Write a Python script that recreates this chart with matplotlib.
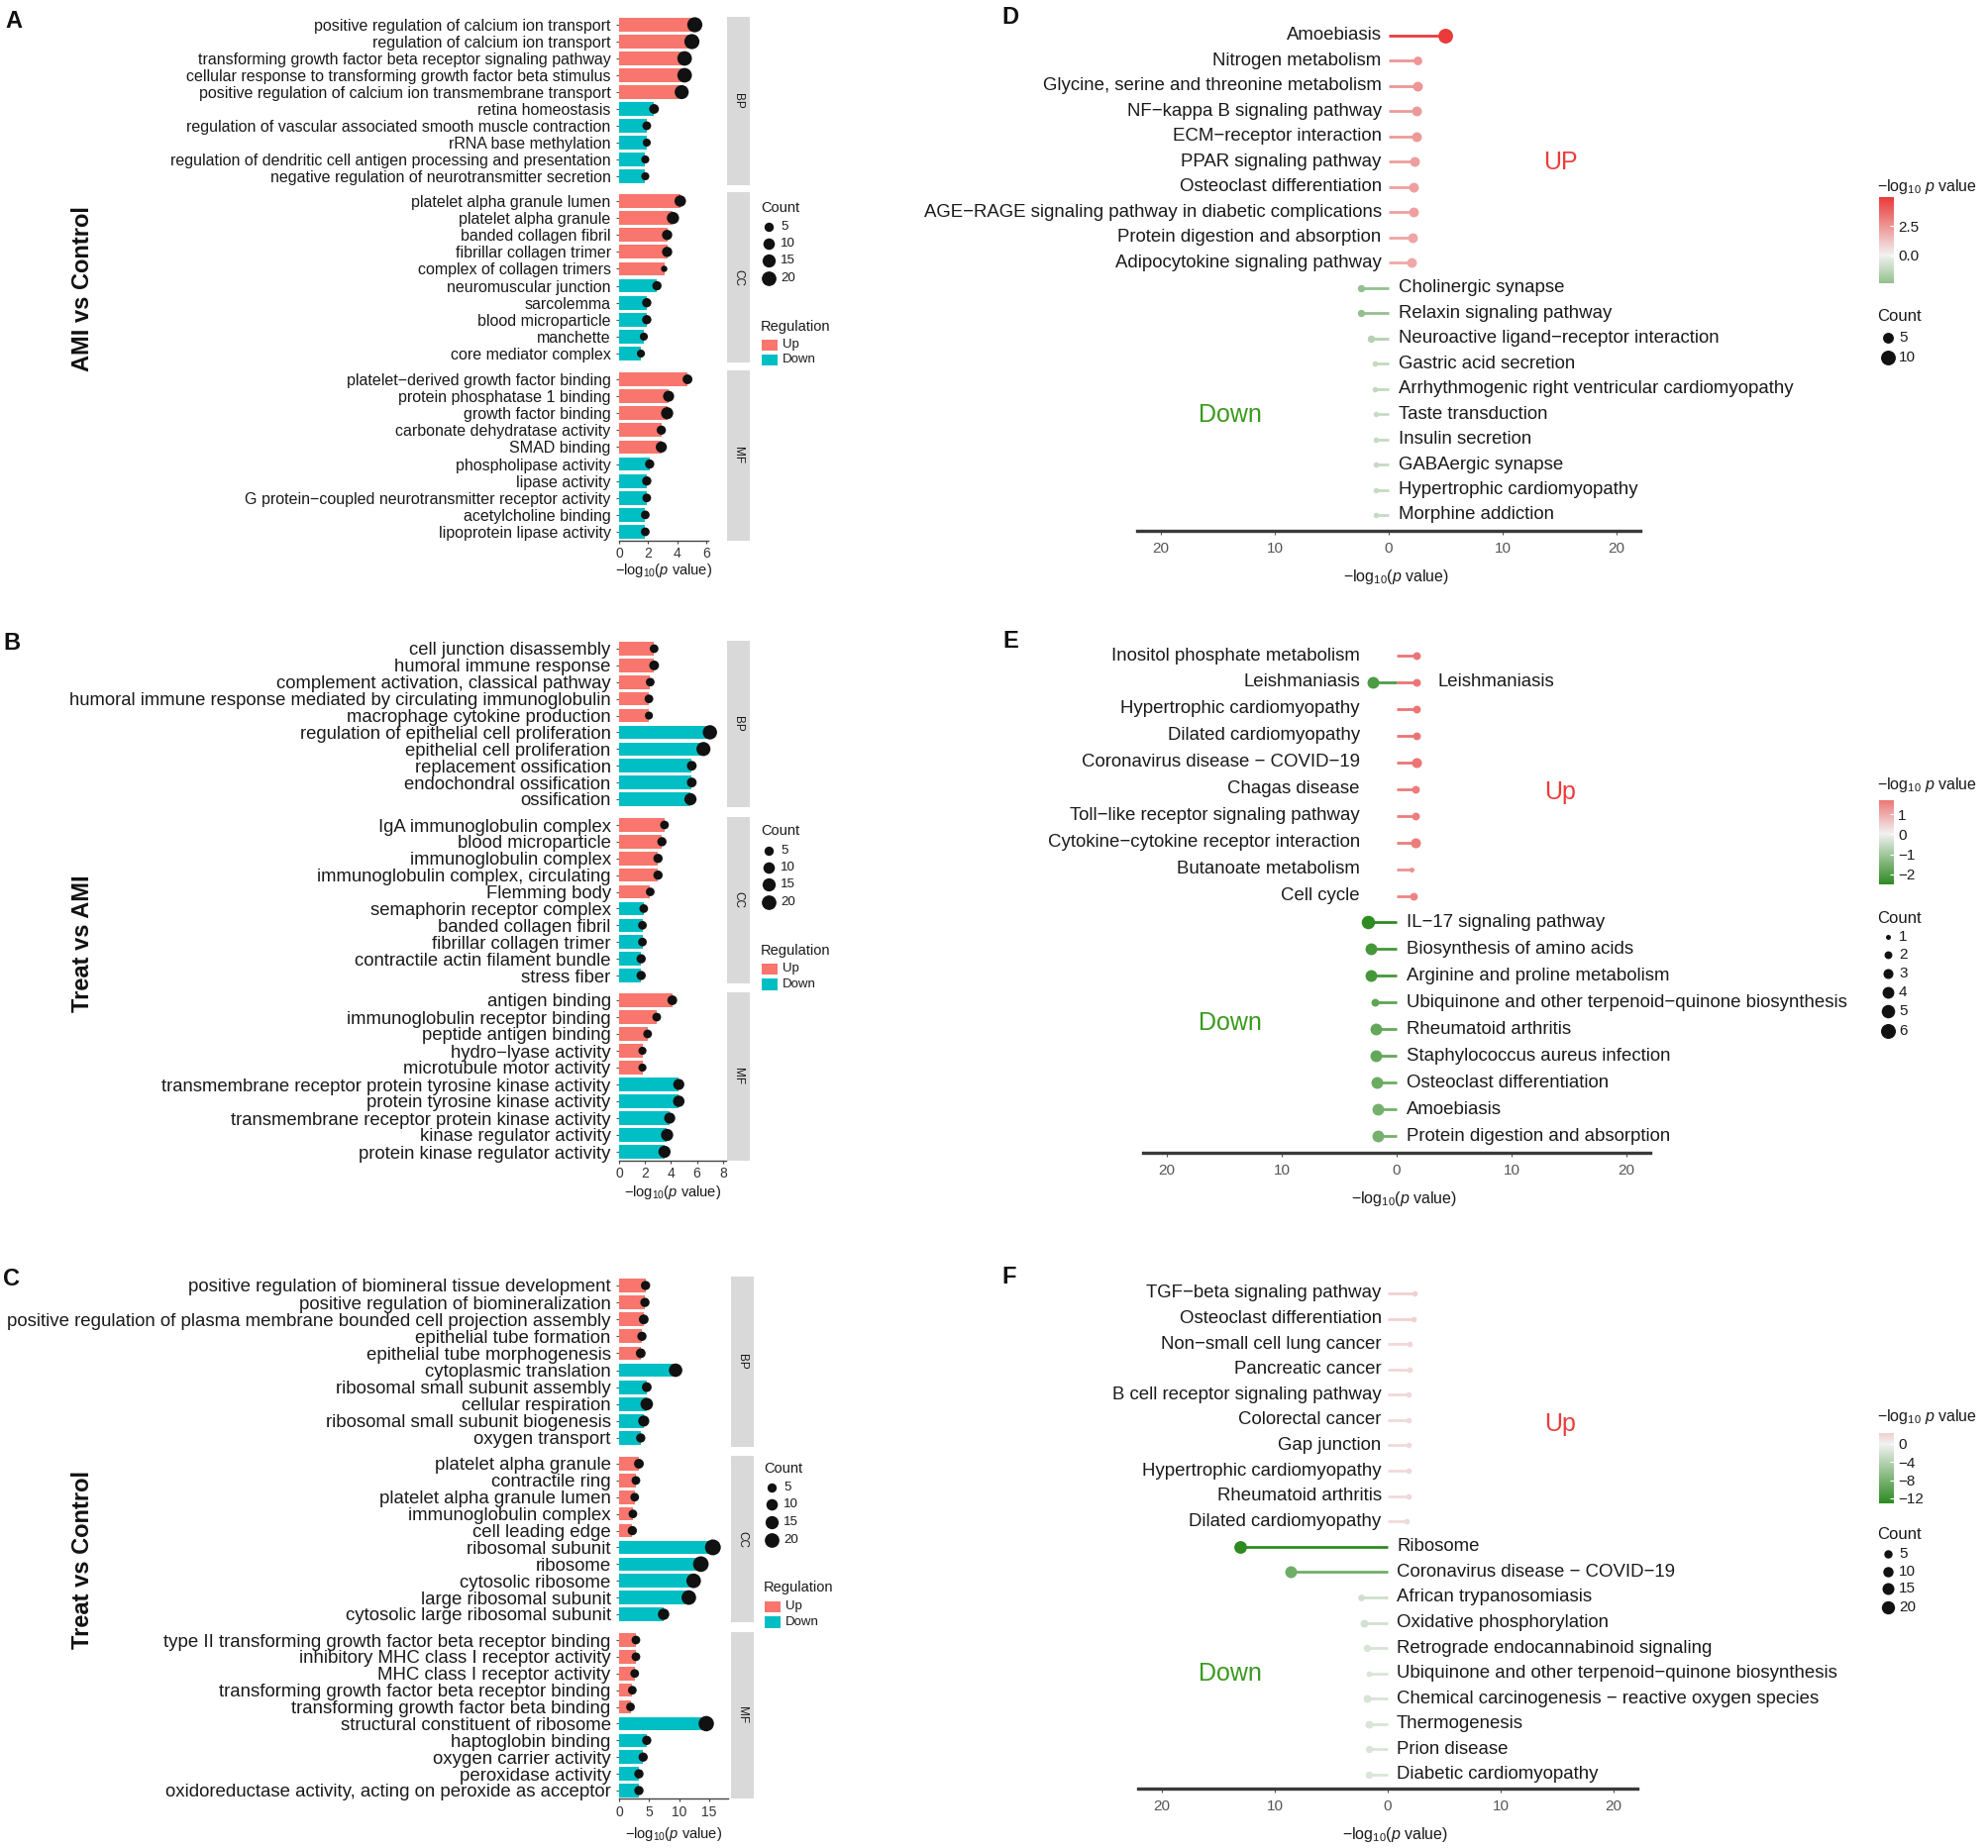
import numpy as np
import matplotlib
matplotlib.use("Agg")
import matplotlib.pyplot as plt
from matplotlib.colors import LinearSegmentedColormap
from matplotlib.patches import Rectangle

plt.rcParams['font.family'] = ['Liberation Sans', 'DejaVu Sans']
plt.rcParams['mathtext.fontset'] = 'custom'
plt.rcParams['mathtext.rm'] = 'Liberation Sans'
plt.rcParams['mathtext.it'] = 'Liberation Sans:italic'
plt.rcParams['mathtext.bf'] = 'Liberation Sans:bold'

M = "\u2212"
# ------------------------------------------------------------------ data
A_terms = ["positive regulation of calcium ion transport", "regulation of calcium ion transport",
           "transforming growth factor beta receptor signaling pathway",
           "cellular response to transforming growth factor beta stimulus",
           "positive regulation of calcium ion transmembrane transport", "retina homeostasis",
           "regulation of vascular associated smooth muscle contraction", "rRNA base methylation",
           "regulation of dendritic cell antigen processing and presentation",
           "negative regulation of neurotransmitter secretion",
           "platelet alpha granule lumen", "platelet alpha granule", "banded collagen fibril",
           "fibrillar collagen trimer", "complex of collagen trimers", "neuromuscular junction",
           "sarcolemma", "blood microparticle", "manchette", "core mediator complex",
           "platelet" + M + "derived growth factor binding", "protein phosphatase 1 binding",
           "growth factor binding", "carbonate dehydratase activity", "SMAD binding",
           "phospholipase activity", "lipase activity",
           "G protein" + M + "coupled neurotransmitter receptor activity", "acetylcholine binding",
           "lipoprotein lipase activity"]
A_values = [5.2, 5.0, 4.5, 4.5, 4.3, 2.4, 1.9, 1.9, 1.8, 1.8,
            4.2, 3.7, 3.3, 3.3, 3.1, 2.6, 1.9, 1.9, 1.7, 1.5,
            4.7, 3.4, 3.3, 2.9, 2.9, 2.1, 1.9, 1.9, 1.8, 1.8]
A_counts = [22, 22, 20, 20, 18, 6, 4, 3, 3, 3,
            10, 12, 7, 7, 1, 5, 5, 5, 3, 3,
            6, 9, 12, 5, 9, 5, 5, 4, 4, 4]
A_regulation = (["Up"] * 5 + ["Down"] * 5) * 3
A_ontology = ["BP"] * 10 + ["CC"] * 10 + ["MF"] * 10

B_terms = ["cell junction disassembly", "humoral immune response", "complement activation, classical pathway",
           "humoral immune response mediated by circulating immunoglobulin", "macrophage cytokine production",
           "regulation of epithelial cell proliferation", "epithelial cell proliferation",
           "replacement ossification", "endochondral ossification", "ossification",
           "IgA immunoglobulin complex", "blood microparticle", "immunoglobulin complex",
           "immunoglobulin complex, circulating", "Flemming body", "semaphorin receptor complex",
           "banded collagen fibril", "fibrillar collagen trimer", "contractile actin filament bundle",
           "stress fiber",
           "antigen binding", "immunoglobulin receptor binding", "peptide antigen binding",
           "hydro" + M + "lyase activity", "microtubule motor activity",
           "transmembrane receptor protein tyrosine kinase activity", "protein tyrosine kinase activity",
           "transmembrane receptor protein kinase activity", "kinase regulator activity",
           "protein kinase regulator activity"]
B_values = [2.7, 2.7, 2.4, 2.3, 2.3, 7.0, 6.5, 5.6, 5.6, 5.5,
            3.5, 3.3, 3.0, 3.0, 2.4, 1.9, 1.8, 1.8, 1.7, 1.7,
            4.1, 2.9, 2.2, 1.8, 1.8, 4.6, 4.6, 3.9, 3.7, 3.5]
B_counts = [4, 6, 4, 4, 3, 19, 18, 6, 6, 12,
            4, 5, 5, 5, 4, 4, 4, 4, 5, 5,
            6, 4, 4, 3, 3, 9, 10, 9, 12, 12]
B_regulation = (["Up"] * 5 + ["Down"] * 5) * 3
B_ontology = ["BP"] * 10 + ["CC"] * 10 + ["MF"] * 10

C_terms = ["positive regulation of biomineral tissue development", "positive regulation of biomineralization",
           "positive regulation of plasma membrane bounded cell projection assembly",
           "epithelial tube formation", "epithelial tube morphogenesis", "cytoplasmic translation",
           "ribosomal small subunit assembly", "cellular respiration", "ribosomal small subunit biogenesis",
           "oxygen transport",
           "platelet alpha granule", "contractile ring", "platelet alpha granule lumen",
           "immunoglobulin complex", "cell leading edge", "ribosomal subunit", "ribosome",
           "cytosolic ribosome", "large ribosomal subunit", "cytosolic large ribosomal subunit",
           "type II transforming growth factor beta receptor binding",
           "inhibitory MHC class I receptor activity", "MHC class I receptor activity",
           "transforming growth factor beta receptor binding", "transforming growth factor beta binding",
           "structural constituent of ribosome", "haptoglobin binding", "oxygen carrier activity",
           "peroxidase activity", "oxidoreductase activity, acting on peroxide as acceptor"]
C_values = [4.4, 4.3, 4.1, 3.8, 3.6, 9.4, 4.6, 4.6, 4.1, 3.6,
            3.3, 2.8, 2.6, 2.3, 2.2, 15.6, 13.6, 12.4, 11.6, 7.4,
            2.8, 2.8, 2.6, 2.2, 1.9, 14.5, 4.6, 4.0, 3.3, 3.3]
C_counts = [5, 5, 6, 5, 6, 16, 6, 13, 9, 5,
            6, 4, 4, 4, 5, 25, 24, 20, 20, 10,
            4, 4, 4, 4, 4, 23, 5, 5, 5, 5]
C_regulation = (["Up"] * 5 + ["Down"] * 5) * 3
C_ontology = ["BP"] * 10 + ["CC"] * 10 + ["MF"] * 10

D_terms = ["Amoebiasis", "Nitrogen metabolism", "Glycine, serine and threonine metabolism",
           "NF" + M + "kappa B signaling pathway", "ECM" + M + "receptor interaction",
           "PPAR signaling pathway", "Osteoclast differentiation",
           "AGE" + M + "RAGE signaling pathway in diabetic complications",
           "Protein digestion and absorption", "Adipocytokine signaling pathway",
           "Cholinergic synapse", "Relaxin signaling pathway", "Neuroactive ligand" + M + "receptor interaction",
           "Gastric acid secretion", "Arrhythmogenic right ventricular cardiomyopathy", "Taste transduction",
           "Insulin secretion", "GABAergic synapse", "Hypertrophic cardiomyopathy", "Morphine addiction"]
D_values = [5.0, 2.5, 2.5, 2.4, 2.4, 2.3, 2.2, 2.2, 2.1, 2.0,
            -2.4, -2.4, -1.6, -1.2, -1.2, -1.1, -1.1, -1.1, -1.1, -1.1]
D_counts = [10, 3, 4, 4, 4, 4, 4, 4, 4, 4,
            2, 2, 2, 1, 1, 1, 1, 1, 1, 1]

E_terms = ["Inositol phosphate metabolism", "Leishmaniasis", "Hypertrophic cardiomyopathy",
           "Dilated cardiomyopathy", "Coronavirus disease " + M + " COVID" + M + "19", "Chagas disease",
           "Toll" + M + "like receptor signaling pathway", "Cytokine" + M + "cytokine receptor interaction",
           "Butanoate metabolism", "Cell cycle",
           "Leishmaniasis", "IL" + M + "17 signaling pathway", "Biosynthesis of amino acids",
           "Arginine and proline metabolism", "Ubiquinone and other terpenoid" + M + "quinone biosynthesis",
           "Rheumatoid arthritis", "Staphylococcus aureus infection", "Osteoclast differentiation",
           "Amoebiasis", "Protein digestion and absorption"]
E_values = [1.7, 1.7, 1.7, 1.7, 1.7, 1.6, 1.6, 1.6, 1.3, 1.5,
            -2.1, -2.5, -2.2, -2.2, -1.9, -1.8, -1.8, -1.7, -1.6, -1.6]
E_counts = [2, 2, 2, 2, 3, 2, 2, 3, 1, 2,
            4, 5, 4, 4, 2, 4, 4, 4, 4, 4]

F_terms = ["TGF" + M + "beta signaling pathway", "Osteoclast differentiation", "Non" + M + "small cell lung cancer",
           "Pancreatic cancer", "B cell receptor signaling pathway", "Colorectal cancer", "Gap junction",
           "Hypertrophic cardiomyopathy", "Rheumatoid arthritis", "Dilated cardiomyopathy",
           "Ribosome", "Coronavirus disease " + M + " COVID" + M + "19", "African trypanosomiasis",
           "Oxidative phosphorylation", "Retrograde endocannabinoid signaling",
           "Ubiquinone and other terpenoid" + M + "quinone biosynthesis",
           "Chemical carcinogenesis " + M + " reactive oxygen species", "Thermogenesis", "Prion disease",
           "Diabetic cardiomyopathy"]
F_values = [2.4, 2.3, 1.9, 1.9, 1.8, 1.8, 1.8, 1.8, 1.8, 1.7,
            -13.1, -8.6, -2.4, -2.1, -1.8, -1.7, -1.8, -1.7, -1.7, -1.7]
F_counts = [1, 1, 1, 1, 1, 1, 1, 1, 1, 1,
            18, 15, 2, 4, 3, 1, 4, 4, 3, 3]

# ------------------------------------------------------------------ setup
W, H = 2008, 1866
fig = plt.figure(figsize=(W / 100, H / 100), dpi=100)
renderer = fig.canvas.get_renderer()
ov = fig.add_axes([0, 0, 1, 1], zorder=10)
ov.set_xlim(0, W)
ov.set_ylim(H, 0)
ov.axis('off')
ov.patch.set_alpha(0)

UP_COL = '#F8766D'
DOWN_COL = '#00BFC4'
TXT = '#1A1A1A'
cmap = LinearSegmentedColormap.from_list('gwr', ['#2E8B22', '#F2F2F2', '#EA3A3A'])
PX2PT = 72 / 100.0


def add_px(x0, y0, x1, y1):
    ax = fig.add_axes([x0 / W, 1 - y1 / H, (x1 - x0) / W, (y1 - y0) / H])
    ax.patch.set_alpha(0)
    return ax


def fit_size(s, target_px, **kw):
    t = fig.text(0, 0, s, fontsize=10, **kw)
    w = t.get_window_extent(renderer).width
    t.remove()
    return 10 * target_px / w


def s_of(d_px):
    return (d_px * PX2PT) ** 2


XLAB = r'$-\mathrm{log}_{10}(p\ \mathrm{value})$'


def go_panel(terms, values, counts, regs, onts, rows, x0, ppu, xmax, xticks, strip_x,
             ref_label, ref_px, leg_x, leg_count_y, leg_dot_ys, leg_reg_y, leg_box_ys,
             tick_y, xlab_y, side_label, side_y):
    fs = fit_size(ref_label, ref_px)
    size_fn = lambda c: 4.0 + 2.4 * np.sqrt(c)
    for k, ont in enumerate(['BP', 'CC', 'MF']):
        idx = [i for i, o in enumerate(onts) if o == ont]
        r0, r1 = rows[ont]
        n = len(idx)
        sp = (r1 - r0) / (n - 1)
        ytop, ybot = r0 - 0.5 * sp, r1 + 0.5 * sp
        ax = add_px(x0, ytop, x0 + ppu * xmax, ybot)
        ypos = np.arange(n)
        vals = [values[i] for i in idx]
        cols = [UP_COL if regs[i] == 'Up' else DOWN_COL for i in idx]
        ax.barh(ypos, vals, height=0.8, color=cols, zorder=2)
        ax.scatter(vals, ypos, s=[s_of(size_fn(counts[i])) for i in idx], color='#111111',
                   zorder=3, clip_on=False, linewidths=0)
        ax.set_xlim(0, xmax)
        ax.set_ylim(n - 0.5, -0.5)
        ax.set_yticks(ypos)
        ax.set_yticklabels([terms[i] for i in idx], fontsize=fs, color=TXT)
        ax.tick_params(axis='y', length=2.5, width=0.8, color='#555555', pad=3.5)
        for s in ['top', 'right', 'left']:
            ax.spines[s].set_visible(False)
        if k == 2:
            ax.spines['bottom'].set_color('#444444')
            ax.spines['bottom'].set_linewidth(1.0)
            ax.set_xticks(xticks)
            ax.set_xticklabels([str(t) for t in xticks], fontsize=10, color='#333333')
            ax.tick_params(axis='x', length=2.5, width=0.8, color='#444444', pad=2)
        else:
            ax.spines['bottom'].set_visible(False)
            ax.set_xticks([])
        ov.add_patch(Rectangle((strip_x, ytop), 23, ybot - ytop, color='#D9D9D9', lw=0))
        ov.text(strip_x + 11.5, (ytop + ybot) / 2, ont, rotation=270, ha='center', va='center',
                fontsize=8.5, color='#1A1A1A')
    xmid = x0 + ppu * xmax / 2
    ov.text(xmid, xlab_y, XLAB, ha='center', va='center', fontsize=10.5, color=TXT)
    # legends
    ov.text(leg_x, leg_count_y, 'Count', ha='left', va='center', fontsize=10.5, color=TXT)
    for c, yy in zip([5, 10, 15, 20], leg_dot_ys):
        ov.scatter([leg_x + 8], [yy], s=s_of(size_fn(c)), color='#111111', linewidths=0)
        ov.text(leg_x + 20, yy, str(c), ha='left', va='center', fontsize=9.5, color=TXT)
    ov.text(leg_x, leg_reg_y, 'Regulation', ha='left', va='center', fontsize=10.5, color=TXT)
    for col, lab, (ya, yb) in zip([UP_COL, DOWN_COL], ['Up', 'Down'], leg_box_ys):
        ov.add_patch(Rectangle((leg_x + 1, ya), 16, yb - ya, color=col, lw=0))
        ov.text(leg_x + 22, (ya + yb) / 2, lab, ha='left', va='center', fontsize=9.5, color=TXT)
    ov.text(84, side_y, side_label, rotation=90, ha='center', va='center', fontsize=17,
            fontweight='bold', color='#111111')


def kegg_panel(terms, values, counts, zero_px, ppu, row0, rowN, axis_y, up_off, down_off,
               ref_label, ref_px, size_fn, leg_counts, count_y, leg_dot_ys, cb_top, cb_bot,
               cb_title_y, cb_ticks, cb_fmt, up_text, up_xy, down_xy, tick_y_pad):
    fs = fit_size(ref_label, ref_px)
    uniq = list(dict.fromkeys(terms))
    n = len(uniq)
    sp = (rowN - row0) / (n - 1)
    xl = (-22.1, 22.1)
    ax = add_px(zero_px + xl[0] * ppu, row0 - 0.6 * sp, zero_px + xl[1] * ppu, axis_y)
    ax.set_xlim(*xl)
    ax.set_ylim((axis_y - row0) / sp, -0.6)
    vmax = max(abs(min(values)), abs(max(values)))
    norm = lambda v: 0.5 + np.asarray(v) / (2 * vmax)
    upval = {t: v for t, v in zip(terms, values) if v > 0}
    for t, v, c in zip(terms, values, counts):
        r = uniq.index(t)
        col = cmap(norm(v))
        ax.plot([0, v], [r, r], color=col, lw=2.0, solid_capstyle='butt', zorder=2)
        ax.scatter([v], [r], s=s_of(size_fn(c)), color=col, zorder=3, clip_on=False, linewidths=0)
        if v > 0:
            ax.text(up_off, r, t, ha='right', va='center', fontsize=fs, color=TXT)
        else:
            xx = down_off + (upval[t] + 1.0 if t in upval else 0)
            ax.text(xx, r, t, ha='left', va='center', fontsize=fs, color=TXT)
    for s in ['top', 'right', 'left']:
        ax.spines[s].set_visible(False)
    ax.spines['bottom'].set_color('#3A3A3A')
    ax.spines['bottom'].set_linewidth(2.4)
    ax.set_yticks([])
    ticks = [-20, -10, 0, 10, 20]
    ax.set_xticks(ticks)
    ax.set_xticklabels([str(abs(t)) for t in ticks], fontsize=11, color='#555555')
    ax.tick_params(axis='x', length=3, width=0.8, color='#555555', pad=tick_y_pad)
    ov.text(zero_px + 8, axis_y + 47, XLAB, ha='center', va='center', fontsize=11.5, color=TXT)
    # UP / Down annotations
    ov.text(up_xy[0], up_xy[1], up_text, ha='center', va='center', fontsize=18, color='#EE3B3B')
    ov.text(down_xy[0], down_xy[1], 'Down', ha='center', va='center', fontsize=18, color='#3A9A1E')
    # colour bar
    lo, hi = min(values), max(values)
    cax = add_px(1897, cb_top, 1912, cb_bot)
    grad = np.linspace(lo, hi, 256)
    cax.imshow(cmap(norm(grad))[:, None, :], extent=[0, 1, lo, hi], origin='lower', aspect='auto')
    cax.set_xlim(0, 1)
    cax.set_ylim(lo, hi)
    cax.set_xticks([])
    cax.yaxis.tick_right()
    cax.set_yticks(cb_ticks)
    cax.set_yticklabels([cb_fmt(t) for t in cb_ticks], fontsize=11, color=TXT)
    cax.tick_params(axis='y', length=3, width=0.8, color='white', direction='in', pad=3)
    for s in cax.spines.values():
        s.set_visible(False)
    ov.text(1895, cb_title_y, r'$-\mathrm{log}_{10}\ p\ \mathrm{value}$', ha='left', va='center',
            fontsize=11.5, color=TXT)
    ov.text(1895, count_y, 'Count', ha='left', va='center', fontsize=12, color=TXT)
    for c, yy in zip(leg_counts, leg_dot_ys):
        ov.scatter([1906], [yy], s=s_of(size_fn(c)), color='#111111', linewidths=0)
        ov.text(1917, yy, str(c), ha='left', va='center', fontsize=11, color=TXT)


# ------------------------------------------------------------------ panels A-C
go_panel(A_terms, A_values, A_counts, A_regulation, A_ontology,
         {'BP': (25, 178), 'CC': (203, 357), 'MF': (383, 537)}, 625, 14.7, 6.1, [0, 2, 4, 6], 734,
         "positive regulation of calcium ion transmembrane transport", 417,
         768, 210, [229, 246, 263, 281], 330, [(343, 354), (358, 369)], 560, 576,
         'AMI vs Control', 292)
go_panel(B_terms, B_values, B_counts, B_regulation, B_ontology,
         {'BP': (655, 807), 'CC': (833, 985), 'MF': (1010, 1163)}, 625, 13.1, 8.25, [0, 2, 4, 6, 8], 734,
         "humoral immune response mediated by circulating immunoglobulin", 549,
         768, 839, [859, 876, 893, 911], 960, [(973, 984), (988, 1000)], 1188, 1204,
         'Treat vs AMI', 953)
go_panel(C_terms, C_values, C_counts, C_regulation, C_ontology,
         {'BP': (1298, 1452), 'CC': (1478, 1630), 'MF': (1656, 1808)}, 625, 6.07, 18.1, [0, 5, 10, 15], 738,
         "positive regulation of plasma membrane bounded cell projection assembly", 612,
         771, 1483, [1502, 1519, 1537, 1555], 1603, [(1617, 1628), (1632, 1644)], 1834, 1852,
         'Treat vs Control', 1575)

# ------------------------------------------------------------------ panels D-F
kegg_panel(D_terms, D_values, D_counts, 1402, 11.5, 36, 520, 536, -0.64, 0.9,
           "AGE" + M + "RAGE signaling pathway in diabetic complications", 465,
           lambda c: 1.3 + 4.3 * np.sqrt(c), [5, 10], 319, [341, 361], 199, 286, 188,
           [0.0, 2.5], lambda t: f"{t:.1f}", 'UP', (1575, 164), (1242, 419), 5)
kegg_panel(E_terms, E_values, E_counts, 1410, 11.6, 662, 1147, 1164, -3.2, 0.85,
           "Ubiquinone and other terpenoid" + M + "quinone biosynthesis", 448,
           lambda c: -1.9 + 6.9 * np.sqrt(c), [1, 2, 3, 4, 5, 6], 927, [946, 964, 983, 1002, 1021, 1041],
           808, 893, 793, [-2, -1, 0, 1], lambda t: M + str(abs(t)) if t < 0 else str(t),
           'Up', (1575, 800), (1242, 1033), 5)
kegg_panel(F_terms, F_values, F_counts, 1401, 11.4, 1306, 1792, 1806, -0.55, 0.8,
           "Ubiquinone and other terpenoid" + M + "quinone biosynthesis", 448,
           lambda c: 3.5 + 2.2 * np.sqrt(c), [5, 10, 15, 20], 1550, [1569, 1587, 1604, 1623],
           1447, 1518, 1430, [-12, -8, -4, 0], lambda t: M + str(abs(t)) if t < 0 else str(t),
           'Up', (1575, 1438), (1242, 1690), 5)

# panel letters
for lab, (x, y) in zip("ABCDEF", [(14, 21), (12, 650), (12, 1292), (1020, 17), (1020, 648), (1019, 1289)]):
    ov.text(x, y, lab, ha='center', va='center', fontsize=17, fontweight='bold', color='#111111')

fig.savefig('out.png', dpi=100)
